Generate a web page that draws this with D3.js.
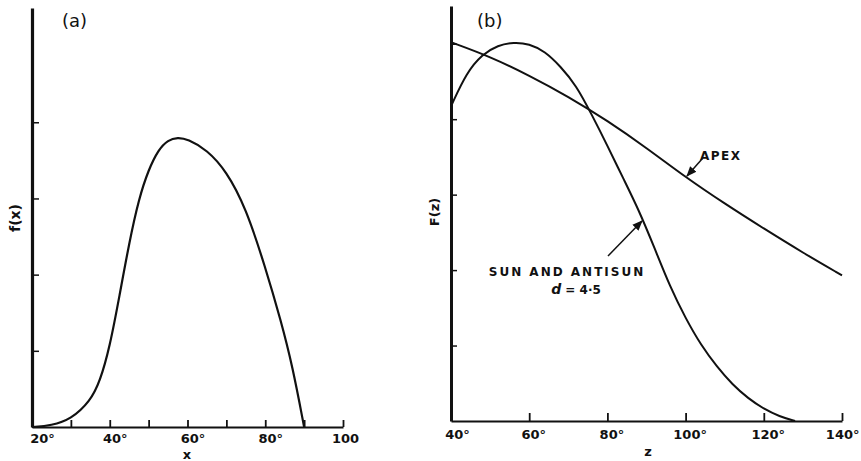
<!DOCTYPE html>
<html>
<head>
<meta charset="utf-8">
<script src="https://cdn.jsdelivr.net/npm/d3@7"></script>
<style>
  html, body { margin: 0; padding: 0; background: #fff; }
  svg { display: block; }
  .lbl { font-family: "DejaVu Sans", sans-serif; fill: #111; }
</style>
</head>
<body>
<svg id="chart" width="861" height="461"></svg>
<script>
// Panel (a): f(x) against x (degrees)
const fxX = [20, 25, 30, 35, 37.5, 40, 42.5, 45, 47.5, 50, 52.5, 55, 57.5, 60, 65, 70, 75, 80, 84, 87, 90];
const fxY = [0, 0.02, 0.1, 0.34, 0.6, 1.05, 1.72, 2.42, 3.0, 3.38, 3.64, 3.77, 3.8, 3.78, 3.64, 3.36, 2.88, 2.1, 1.4, 0.8, 0];
const aTicks = [20, 30, 40, 50, 60, 70, 80, 90, 100];
const aTickLabels = { 20: "20°", 40: "40°", 60: "60°", 80: "80°", 100: "100" };
const aYTicks = [1, 2, 3, 4];

// Panel (b): F(z) against z (degrees)
const apexZ = [40, 50, 60, 70, 80, 90, 100, 110, 120, 130, 140];
const apexF = [5.02, 4.83, 4.58, 4.3, 3.98, 3.62, 3.23, 2.88, 2.55, 2.23, 1.93];
const sunZ = [40, 44, 48, 52, 56, 60, 64, 68, 72, 76, 80, 84, 88, 92, 96, 100, 104, 108, 112, 116, 120, 124, 128];
const sunF = [4.17, 4.62, 4.86, 4.98, 5.02, 5.0, 4.9, 4.7, 4.45, 4.06, 3.65, 3.22, 2.8, 2.3, 1.78, 1.36, 1.0, 0.72, 0.48, 0.3, 0.16, 0.06, 0.0];
const bTicks = [40, 60, 80, 100, 120, 140];
const bTickLabels = ["40°", "60°", "80°", "100°", "120°", "140°"];
const bYTicks = [1, 2, 3, 4, 5];

const svg = d3.select("#chart");
const ink = "#111";
const smooth = d3.curveBasis;

// ---------- panel (a) ----------
const xa = d3.scaleLinear().domain([20, 100]).range([32, 343]);
const ya = d3.scaleLinear().domain([0, 5.5]).range([427, 8]);

const ga = svg.append("g");
const axA = ga.append("g").attr("transform", `translate(0,${ya(0)})`)
  .call(d3.axisBottom(xa).tickValues(aTicks).tickSizeInner(-7).tickSizeOuter(0).tickPadding(7)
    .tickFormat(d => aTickLabels[d] || ""));
axA.select(".domain").attr("stroke", ink).attr("stroke-width", 2.2);
axA.selectAll(".tick line").attr("stroke", ink).attr("stroke-width", 1.8);
axA.selectAll(".tick text").attr("class", "lbl").attr("font-size", 13).attr("font-weight", "bold")
  .attr("dx", d => d === 20 ? 10 : (d === 100 ? 2 : 5));

const ayA = ga.append("g").attr("transform", `translate(${xa(20)},0)`)
  .call(d3.axisLeft(ya).tickValues(aYTicks).tickSizeInner(-7).tickSizeOuter(0).tickFormat(""));
ayA.select(".domain").attr("stroke", ink).attr("stroke-width", 3.2);
ayA.selectAll(".tick line").attr("stroke", ink).attr("stroke-width", 1.5);

const lineA = d3.line().x((d, i) => xa(fxX[i])).y(d => ya(d)).curve(smooth);
ga.append("path").attr("d", lineA(fxY)).attr("fill", "none").attr("stroke", ink).attr("stroke-width", 2.2);

ga.append("text").attr("class", "lbl").attr("x", 62).attr("y", 27).attr("font-size", 18).text("(a)");
ga.append("text").attr("class", "lbl").attr("transform", "translate(20,218) rotate(-90)")
  .attr("text-anchor", "middle").attr("font-size", 14).attr("font-weight", "bold").text("f(x)");
ga.append("text").attr("class", "lbl").attr("x", 187).attr("y", 459).attr("text-anchor", "middle")
  .attr("font-size", 13).attr("font-weight", "bold").text("x");

// ---------- panel (b) ----------
const xb = d3.scaleLinear().domain([40, 140]).range([451, 842]);
const yb = d3.scaleLinear().domain([0, 5.5]).range([421, 6]);

const gb = svg.append("g");
const axB = gb.append("g").attr("transform", `translate(0,${yb(0)})`)
  .call(d3.axisBottom(xb).tickValues(bTicks).tickSizeInner(-8).tickSizeOuter(0).tickPadding(9)
    .tickFormat((d, i) => bTickLabels[i]));
axB.select(".domain").attr("stroke", ink).attr("stroke-width", 2.2);
axB.selectAll(".tick line").attr("stroke", ink).attr("stroke-width", 1.8);
axB.selectAll(".tick text").attr("class", "lbl").attr("font-size", 13).attr("font-weight", "bold")
  .attr("dx", (d, i) => i === 0 ? 6 : 4);
// keep the last label inside the frame
axB.selectAll(".tick text").filter(d => d === 140).attr("text-anchor", "end").attr("dx", 0)
  .attr("x", 859 - xb(140));

const ayB = gb.append("g").attr("transform", `translate(${xb(40)},0)`)
  .call(d3.axisLeft(yb).tickValues(bYTicks).tickSizeInner(-6).tickSizeOuter(0).tickFormat(""));
ayB.select(".domain").attr("stroke", ink).attr("stroke-width", 3);
ayB.selectAll(".tick line").attr("stroke", ink).attr("stroke-width", 1.5);

const lineApex = d3.line().x((d, i) => xb(apexZ[i])).y(d => yb(d)).curve(smooth);
const lineSun = d3.line().x((d, i) => xb(sunZ[i])).y(d => yb(d)).curve(smooth);
gb.append("path").attr("d", lineApex(apexF)).attr("fill", "none").attr("stroke", ink).attr("stroke-width", 2);
gb.append("path").attr("d", lineSun(sunF)).attr("fill", "none").attr("stroke", ink).attr("stroke-width", 2);

gb.append("text").attr("class", "lbl").attr("x", 477).attr("y", 27).attr("font-size", 18).text("(b)");
gb.append("text").attr("class", "lbl").attr("transform", "translate(439,212) rotate(-90)")
  .attr("text-anchor", "middle").attr("font-size", 13).attr("font-weight", "bold").text("F(z)");
gb.append("text").attr("class", "lbl").attr("x", 648).attr("y", 456).attr("text-anchor", "middle")
  .attr("font-size", 13).attr("font-weight", "bold").text("z");

// annotation arrows
const defs = svg.append("defs");
defs.append("marker").attr("id", "arr").attr("viewBox", "0 0 10 10").attr("refX", 9).attr("refY", 5)
  .attr("markerWidth", 7).attr("markerHeight", 7).attr("orient", "auto-start-reverse")
  .append("path").attr("d", "M0,1 L10,5 L0,9 z").attr("fill", ink);

gb.append("line").attr("x1", 702).attr("y1", 159).attr("x2", 687).attr("y2", 176)
  .attr("stroke", ink).attr("stroke-width", 1.5).attr("marker-end", "url(#arr)");
gb.append("text").attr("class", "lbl").attr("x", 700).attr("y", 160).attr("font-size", 12)
  .attr("font-weight", "bold").attr("letter-spacing", 1.5).text("APEX");

gb.append("line").attr("x1", 608).attr("y1", 256).attr("x2", 642).attr("y2", 221)
  .attr("stroke", ink).attr("stroke-width", 1.5).attr("marker-end", "url(#arr)");
gb.append("text").attr("class", "lbl").attr("x", 567).attr("y", 276).attr("text-anchor", "middle")
  .attr("font-size", 12).attr("font-weight", "bold").attr("letter-spacing", 2).text("SUN AND ANTISUN");
const dl = gb.append("text").attr("class", "lbl").attr("x", 576).attr("y", 294).attr("text-anchor", "middle")
  .attr("font-size", 12).attr("font-weight", "bold");
dl.append("tspan").attr("font-style", "italic").attr("font-size", 14).text("d");
dl.append("tspan").text(" = 4·5");
</script>
</body>
</html>
